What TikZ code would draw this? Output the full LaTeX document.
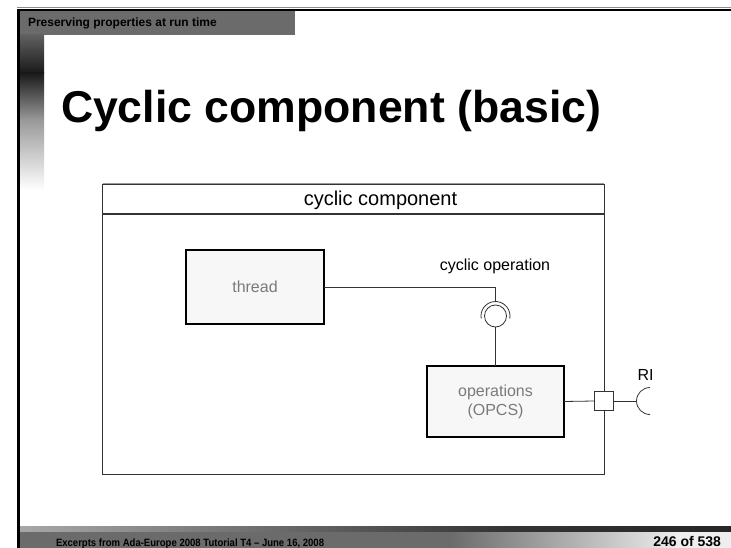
\documentclass[tikz,border=0pt]{standalone}
\usepackage{fontspec}
\setmainfont{Liberation Sans}
\definecolor{bargray}{HTML}{6B6B6B}
\definecolor{boxfill}{HTML}{F7F7F7}
\definecolor{labelgray}{HTML}{7A7A7A}
\definecolor{wirecol}{HTML}{333333}
\definecolor{stripelight}{HTML}{A8A8A8}
\definecolor{stripedark}{HTML}{353535}
\definecolor{footlight}{HTML}{EEEEEE}
\begin{document}
\begin{tikzpicture}[x=1pt,y=-1pt,
  every node/.style={inner sep=0pt, outer sep=0pt},
  diagtext/.style={font=\fontsize{16}{19}\selectfont},
  blockbox/.style={draw=black, line width=2pt, fill=boxfill, text=labelgray,
    align=center, font=\fontsize{16}{19}\selectfont},
  wire/.style={draw=wirecol, line width=0.8pt},
  portbox/.style={draw=wirecol, line width=0.8pt, fill=white, rectangle,
    minimum size=19pt}]
\useasboundingbox (0,0) rectangle (731,548);
\fill[white] (0,0) rectangle (731,548);

% ---- slide frame ----
\fill[bargray] (20,11) rectangle (295,35);
\shade[top color=bargray!90!black, bottom color=black!90] (20,35) rectangle (44,73);
\shade[top color=black!90, bottom color=black!40] (20,73) rectangle (44,120);
\shade[top color=black!40, bottom color=white] (20,120) rectangle (44,190);

% footer bars
\shade[left color=stripelight, right color=stripedark] (18,526) rectangle (500,532);
\shade[left color=stripedark, right color=black!85] (500,526) rectangle (731,532);
\fill[bargray] (18,532) rectangle (450,548);
\shade[left color=bargray, right color=footlight] (450,532) rectangle (680,548);
\fill[footlight] (680,532) rectangle (731,548);

% frame lines
\draw[black!45, line width=1pt] (17,8) -- (731,8);
\draw[black, line width=2.5pt] (17,10) -- (731,10);
\draw[black, line width=2.5pt] (18.5,9) -- (18.5,548);

\node[anchor=base west, font=\fontsize{12}{14}\selectfont\bfseries] (section) at (28,26.5)
  {Preserving properties at run time};
\node[anchor=base west, font=\fontsize{44.6}{50}\selectfont\bfseries] (title) at (61,123)
  {Cyclic component (basic)};
\node[anchor=base west, font=\fontsize{10.6}{12}\selectfont\bfseries] (footer) at (56,546)
  {\scalebox{0.9}[1]{Excerpts from Ada-Europe 2008 Tutorial T4 – June 16, 2008}};
\node[anchor=base east, font=\fontsize{14}{16}\selectfont\bfseries] (page) at (721,546)
  {246 of 538};

% ---- component diagram ----
\draw[wirecol, line width=1pt] (102.5,184.5) rectangle (604,474);
\draw[black!40, line width=0.6pt] (102.5,183.5) -- (604,183.5);
\draw[wirecol, line width=1.2pt] (102.5,214) -- (604,214);
\node[diagtext, anchor=center, font=\fontsize{20}{24}\selectfont] (comp) at (380.5,200)
  {cyclic component};

\node[blockbox, minimum width=138pt, minimum height=74pt] (thread) at (255,287)
  {thread};
\node[blockbox, minimum width=137pt, minimum height=71pt] (ops) at (495.5,401.5)
  {operations\\(OPCS)};

% provided/required interface: ball and socket
\node[circle, draw=wirecol, line width=0.8pt, minimum size=22pt] (ball) at (495.5,316) {};
\draw[wire] (ball.center) ++(170:14.5) arc[start angle=170, end angle=370, radius=14.5];
\coordinate (socktop) at (495.5,301.5);
\draw[wire] (thread.east) -| (socktop);
\draw[wire] (ball.south) -- (ops.north);
\node[diagtext, anchor=center] (opname) at (495,266) {cyclic operation};

% port on the component boundary and required interface
\node[portbox] (port) at (603.5,401) {};
\draw[wire] (ops.east) -- (port.west);
\coordinate (risock) at (636.5,401);
\draw[wire] (port.east) -- (risock);
\draw[wire] ([shift={(13.5,-13.5)}]risock) arc[start angle=270, end angle=90, radius=13.5];
\node[diagtext, anchor=center] (ri) at (645.5,375) {RI};
\end{tikzpicture}
\end{document}
